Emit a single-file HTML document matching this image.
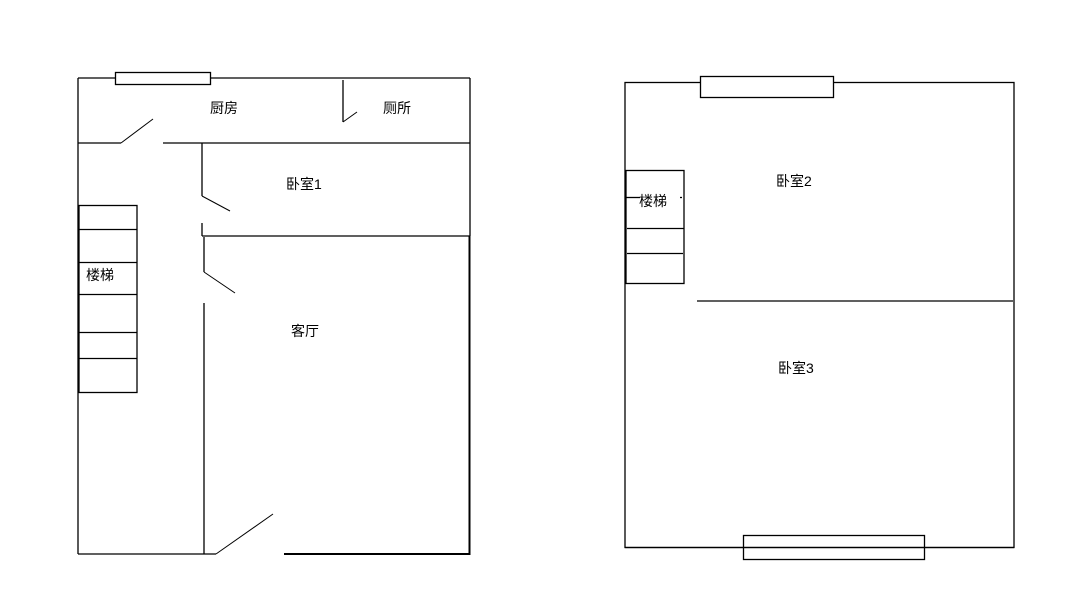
<!DOCTYPE html>
<html><head><meta charset="utf-8"><style>
html,body{margin:0;padding:0;background:#fff;}
svg{display:block}
text{font-family:"Liberation Sans","Noto Sans CJK SC",sans-serif;font-size:14px;fill:#000;}
</style></head><body>
<svg width="1087" height="600" viewBox="0 0 1087 600" xmlns="http://www.w3.org/2000/svg">
<g stroke="#000" stroke-width="1.3" fill="none">
<!-- left plan -->
<line x1="78" y1="78" x2="470" y2="78"/>
<line x1="78" y1="78" x2="78" y2="554"/>
<line x1="470" y1="78" x2="470" y2="236"/>
<rect x="115.5" y="72.5" width="95" height="12" fill="#fff"/>
<line x1="78" y1="143" x2="121" y2="143"/>
<line x1="121" y1="143" x2="153" y2="119" stroke-width="1"/>
<line x1="163" y1="143" x2="470" y2="143"/>
<line x1="343" y1="80" x2="343" y2="122"/>
<line x1="343" y1="122" x2="357" y2="112" stroke-width="1"/>
<line x1="202" y1="143" x2="202" y2="196"/>
<line x1="202" y1="196" x2="230" y2="211" stroke-width="1"/>
<line x1="202" y1="223" x2="202" y2="236"/>
<line x1="202" y1="236" x2="470" y2="236"/>
<line x1="204" y1="237" x2="204" y2="272"/>
<line x1="204" y1="272" x2="235" y2="293" stroke-width="1"/>
<line x1="204" y1="303" x2="204" y2="554"/>
<line x1="469.5" y1="236" x2="469.5" y2="555" stroke-width="2"/>
<line x1="78" y1="554" x2="216" y2="554"/>
<line x1="216" y1="554" x2="273" y2="514" stroke-width="1"/>
<line x1="284" y1="554" x2="470" y2="554" stroke-width="2"/>
<rect x="79" y="205.5" width="58" height="187"/>
<line x1="79" y1="229.5" x2="137" y2="229.5"/>
<line x1="79" y1="262.5" x2="137" y2="262.5"/>
<line x1="79" y1="294.5" x2="137" y2="294.5"/>
<line x1="79" y1="332.5" x2="137" y2="332.5"/>
<line x1="79" y1="358.5" x2="137" y2="358.5"/>
<!-- right plan -->
<rect x="625" y="82.5" width="389" height="465"/>
<rect x="700.5" y="76.5" width="133" height="21" fill="#fff"/>
<rect x="743.5" y="535.5" width="181" height="24"/>
<line x1="625" y1="547.5" x2="1014" y2="547.5"/>
<rect x="626" y="170.5" width="58" height="113"/>
<line x1="626" y1="197.5" x2="640" y2="197.5"/>
<line x1="680" y1="197.5" x2="682" y2="197.5"/>
<line x1="627" y1="228.5" x2="684" y2="228.5"/>
<line x1="627" y1="253.5" x2="683" y2="253.5"/>
<line x1="697" y1="301" x2="1013" y2="301"/>
</g>
<text x="210" y="113">厨房</text>
<text x="383" y="113">厕所</text>
<text x="286" y="189">卧室1</text>
<text x="291" y="336">客厅</text>
<text x="86" y="280">楼梯</text>
<text x="639" y="206">楼梯</text>
<text x="776" y="186">卧室2</text>
<text x="778" y="373">卧室3</text>
</svg>
</body></html>
